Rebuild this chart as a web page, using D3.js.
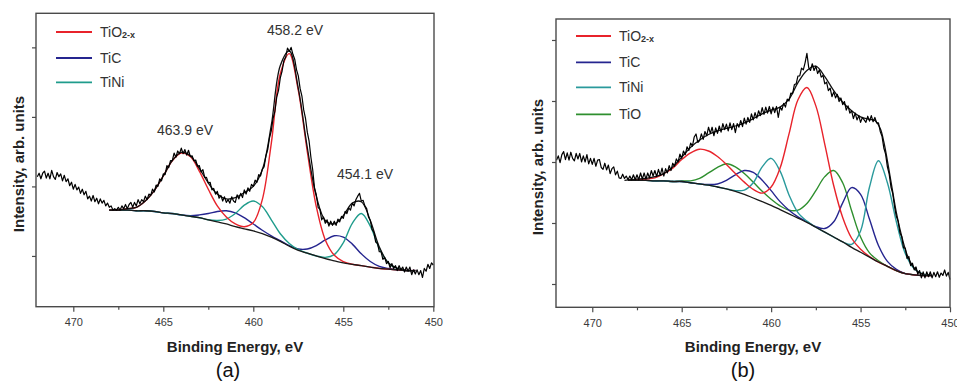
<!DOCTYPE html>
<html><head><meta charset="utf-8">
<script src="https://cdn.jsdelivr.net/npm/d3@7"></script>
<style>
body{margin:0;background:#fff}
svg{display:block}
text{font-family:"Liberation Sans",Arial,sans-serif}
</style>
</head><body>
<svg id="chart" width="957" height="383"></svg>
<script>
// ---------- DATA ----------
const seriesNamesA = ["TiO2-x", "TiC", "TiNi"];
const seriesNamesB = ["TiO2-x", "TiC", "TiNi", "TiO"];
const majorTicks = [470, 465, 460, 455, 450];
const minorTicks = [467.5, 462.5, 457.5, 452.5];
const yTicksA = [0, 1, 2, 3];
const yTicksB = [0, 1, 2, 3, 4];
const peakLabelsA = ["458.2 eV", "463.9 eV", "454.1 eV"];

// raw spectrum energies (eV)
const rawEnergy = [
472.0,471.9,471.8,471.7,471.6,471.5,471.4,471.3,471.2,471.1,
471.0,470.9,470.8,470.7,470.6,470.5,470.4,470.3,470.2,470.1,
470.0,469.9,469.8,469.7,469.6,469.5,469.4,469.3,469.2,469.1,
469.0,468.9,468.8,468.7,468.6,468.5,468.4,468.3,468.2,468.1,
468.0,467.9,467.8,467.7,467.6,467.5,467.4,467.3,467.2,467.1,
467.0,466.9,466.8,466.7,466.6,466.5,466.4,466.3,466.2,466.1,
466.0,465.9,465.8,465.7,465.6,465.5,465.4,465.3,465.2,465.1,
465.0,464.9,464.8,464.7,464.6,464.5,464.4,464.3,464.2,464.1,
464.0,463.9,463.8,463.7,463.6,463.5,463.4,463.3,463.2,463.1,
463.0,462.9,462.8,462.7,462.6,462.5,462.4,462.3,462.2,462.1,
462.0,461.9,461.8,461.7,461.6,461.5,461.4,461.3,461.2,461.1,
461.0,460.9,460.8,460.7,460.6,460.5,460.4,460.3,460.2,460.1,
460.0,459.9,459.8,459.7,459.6,459.5,459.4,459.3,459.2,459.1,
459.0,458.9,458.8,458.7,458.6,458.5,458.4,458.3,458.2,458.1,
458.0,457.9,457.8,457.7,457.6,457.5,457.4,457.3,457.2,457.1,
457.0,456.9,456.8,456.7,456.6,456.5,456.4,456.3,456.2,456.1,
456.0,455.9,455.8,455.7,455.6,455.5,455.4,455.3,455.2,455.1,
455.0,454.9,454.8,454.7,454.6,454.5,454.4,454.3,454.2,454.1,
454.0,453.9,453.8,453.7,453.6,453.5,453.4,453.3,453.2,453.1,
453.0,452.9,452.8,452.7,452.6,452.5,452.4,452.3,452.2,452.1,
452.0,451.9,451.8,451.7,451.6,451.5,451.4,451.3,451.2,451.1,
451.0,450.9,450.8,450.7,450.6,450.5,450.4,450.3,450.2,450.1,
450.0];

const rawA = [
1.14,1.19,1.11,1.19,1.22,1.12,1.19,1.11,1.23,1.14,
1.10,1.20,1.14,1.18,1.08,1.16,1.07,1.11,1.01,1.06,
0.96,1.03,0.95,0.99,0.90,0.96,0.88,0.93,0.82,0.86,
0.79,0.87,0.78,0.83,0.75,0.82,0.76,0.80,0.72,0.76,
0.70,0.72,0.66,0.68,0.66,0.70,0.66,0.72,0.68,0.74,
0.68,0.74,0.77,0.70,0.77,0.72,0.81,0.75,0.81,0.78,
0.86,0.81,0.89,0.87,0.96,0.92,1.02,1.00,1.11,1.08,
1.18,1.17,1.30,1.27,1.37,1.37,1.48,1.42,1.51,1.47,
1.55,1.47,1.53,1.45,1.52,1.43,1.44,1.37,1.38,1.29,
1.30,1.21,1.24,1.13,1.13,1.05,1.06,0.95,0.97,0.89,
0.93,0.83,0.87,0.79,0.85,0.77,0.81,0.76,0.85,0.79,
0.77,0.88,0.82,0.90,0.84,0.95,0.89,0.98,0.93,1.03,
1.00,1.09,1.06,1.17,1.15,1.25,1.28,1.44,1.53,1.70,
1.80,1.98,2.08,2.28,2.38,2.56,2.66,2.81,2.86,2.99,
2.94,3.00,2.90,2.83,2.68,2.59,2.41,2.30,2.10,1.98,
1.78,1.65,1.42,1.24,0.98,0.88,0.70,0.67,0.52,0.56,
0.47,0.52,0.43,0.50,0.44,0.50,0.44,0.53,0.49,0.57,
0.54,0.64,0.61,0.69,0.66,0.76,0.72,0.81,0.86,0.90,
0.79,0.80,0.72,0.68,0.56,0.51,0.38,0.34,0.20,0.18,
0.06,0.06,-0.05,-0.02,-0.11,-0.08,-0.17,-0.11,-0.18,-0.14,
-0.21,-0.14,-0.20,-0.16,-0.23,-0.16,-0.22,-0.16,-0.27,-0.20,
-0.26,-0.20,-0.27,-0.21,-0.31,-0.18,-0.22,-0.12,-0.18,-0.10,
-0.13];

const rawB = [
2.03,2.10,1.99,2.12,2.17,2.04,2.15,2.03,2.16,2.06,
2.02,2.14,2.05,2.14,2.00,2.10,2.00,2.12,1.97,2.06,
1.96,2.06,1.93,2.03,2.04,1.91,1.88,1.98,1.87,1.95,
1.81,1.89,1.92,1.79,1.85,1.74,1.73,1.80,1.73,1.77,
1.71,1.77,1.71,1.79,1.71,1.79,1.71,1.82,1.72,1.82,
1.72,1.82,1.74,1.86,1.77,1.86,1.76,1.88,1.78,1.90,
1.77,1.89,1.82,1.94,1.86,1.98,1.93,2.05,2.00,2.13,
2.06,2.18,2.12,2.25,2.19,2.31,2.26,2.41,2.46,2.32,
2.35,2.46,2.37,2.50,2.43,2.57,2.47,2.57,2.43,2.56,
2.47,2.59,2.49,2.63,2.53,2.62,2.51,2.64,2.53,2.63,
2.48,2.63,2.57,2.68,2.58,2.72,2.62,2.73,2.65,2.79,
2.69,2.81,2.72,2.84,2.76,2.89,2.78,2.90,2.80,2.91,
2.79,2.90,2.81,2.91,2.73,2.90,2.85,2.96,2.90,3.03,
3.00,3.13,3.12,3.27,3.28,3.41,3.41,3.54,3.51,3.63,
3.78,3.55,3.50,3.61,3.50,3.57,3.45,3.51,3.39,3.42,
3.28,3.31,3.17,3.21,3.07,3.15,3.05,3.11,2.99,3.05,
2.94,2.99,2.85,2.92,2.80,2.84,2.71,2.80,2.69,2.76,
2.65,2.73,2.69,2.65,2.75,2.67,2.76,2.66,2.73,2.64,
2.64,2.50,2.42,2.23,2.13,1.92,1.80,1.59,1.48,1.27,
1.11,1.03,0.84,0.78,0.59,0.59,0.42,0.45,0.30,0.34,
0.23,0.28,0.16,0.22,0.10,0.20,0.10,0.20,0.12,0.20,
0.10,0.19,0.12,0.20,0.11,0.18,0.14,0.23,0.13,0.19,
0.07];

// fit grid energies (eV)
const fitEnergy = [468.0,467.5,467.0,466.5,466.0,465.5,465.0,464.5,464.0,463.5,
463.0,462.5,462.0,461.5,461.0,460.5,460.0,459.5,459.0,458.5,
458.0,457.5,457.0,456.5,456.0,455.5,455.0,454.5,454.0,453.5,
453.0,452.5,452.0,451.5,451.0];

// panel (a)
const bgA   = [0.66,0.66,0.66,0.65,0.65,0.64,0.62,0.61,0.59,0.57,0.55,0.52,0.49,0.46,0.42,0.39,0.36,0.32,0.27,0.21,0.14,0.08,0.04,0.00,-0.04,-0.07,-0.10,-0.12,-0.14,-0.16,-0.18,-0.19,-0.20,-0.21,-0.21];
const tio2A = [0.66,0.66,0.68,0.70,0.79,0.94,1.15,1.37,1.48,1.43,1.22,0.96,0.72,0.56,0.46,0.42,0.48,0.81,1.62,2.62,2.91,2.38,1.50,0.71,0.23,0.01,-0.08,-0.12,-0.14,-0.16,-0.18,-0.19,-0.20,-0.21,-0.21];
const ticA  = [0.66,0.66,0.66,0.65,0.65,0.64,0.62,0.61,0.59,0.58,0.59,0.61,0.64,0.65,0.62,0.55,0.46,0.37,0.29,0.22,0.15,0.10,0.10,0.15,0.23,0.29,0.27,0.17,0.03,-0.08,-0.15,-0.18,-0.20,-0.21,-0.21];
const tiniA = [0.66,0.66,0.66,0.65,0.65,0.64,0.62,0.61,0.59,0.57,0.55,0.52,0.51,0.53,0.61,0.73,0.79,0.71,0.52,0.32,0.18,0.09,0.04,0.00,-0.02,0.02,0.19,0.47,0.61,0.43,0.11,-0.10,-0.18,-0.21,-0.21];
const envA  = [0.66,0.66,0.68,0.70,0.79,0.94,1.15,1.37,1.49,1.44,1.26,1.05,0.89,0.82,0.84,0.91,1.00,1.24,1.88,2.74,2.95,2.41,1.56,0.86,0.51,0.46,0.58,0.76,0.78,0.51,0.13,-0.10,-0.18,-0.21,-0.21];

// panel (b)
const bgB   = [1.70,1.70,1.70,1.69,1.69,1.68,1.68,1.66,1.64,1.62,1.59,1.56,1.52,1.47,1.41,1.35,1.29,1.22,1.15,1.08,1.01,0.93,0.85,0.77,0.69,0.60,0.52,0.44,0.36,0.29,0.22,0.17,0.15,0.14,0.14];
const tio2B = [1.70,1.71,1.72,1.74,1.81,1.90,2.04,2.15,2.21,2.18,2.09,1.96,1.81,1.67,1.55,1.49,1.59,1.90,2.46,3.02,3.22,2.92,2.29,1.61,1.09,0.75,0.57,0.45,0.36,0.29,0.22,0.17,0.15,0.14,0.14];
const ticB  = [1.70,1.70,1.70,1.69,1.69,1.68,1.68,1.66,1.64,1.63,1.64,1.70,1.79,1.86,1.83,1.70,1.53,1.35,1.21,1.10,1.02,0.94,0.91,1.02,1.33,1.58,1.47,1.06,0.63,0.37,0.24,0.17,0.15,0.14,0.14];
const tiniB = [1.70,1.70,1.70,1.69,1.69,1.68,1.68,1.66,1.64,1.62,1.59,1.56,1.53,1.54,1.66,1.92,2.06,1.85,1.46,1.17,1.03,0.93,0.85,0.77,0.69,0.65,0.87,1.59,2.02,1.66,1.02,0.50,0.25,0.16,0.14];
const tioB  = [1.70,1.70,1.70,1.69,1.69,1.68,1.69,1.69,1.73,1.82,1.91,1.97,1.92,1.81,1.67,1.52,1.39,1.28,1.21,1.21,1.32,1.53,1.76,1.86,1.66,1.20,0.77,0.51,0.38,0.29,0.22,0.17,0.15,0.14,0.14];
const envEnergyB = [468.2,467.5,467.0,466.5,466.0,465.5,465.0,464.5,464.0,463.5,463.0,462.5,462.0,461.5,461.0,460.5,460.0,459.5,459.0,458.5,458.0,457.5,457.0,456.5,456.0,455.5,455.0,454.5,454.2,453.9,453.7,453.5,453.3,453.0,452.7,452.4,452.1,451.8,451.5];
const envB = [1.70,1.72,1.73,1.76,1.81,1.92,2.08,2.24,2.36,2.45,2.51,2.55,2.59,2.64,2.71,2.79,2.85,2.90,3.03,3.30,3.50,3.57,3.40,3.17,2.98,2.84,2.74,2.70,2.68,2.55,2.33,2.02,1.68,1.17,0.78,0.48,0.30,0.20,0.16];

// ---------- DRAWING ----------
const COLORS = {"TiO2-x":"#e8232b","TiC":"#25258f","TiNi":"#1f9c8c","TiO":"#2e8f2e"};
const COLORS_B = {"TiO2-x":"#e8232b","TiC":"#25258f","TiNi":"#2a9a9c","TiO":"#2e8f2e"};
const svg = d3.select("#chart");

function zip(xs, ys){ return xs.map((x,i)=>[x, ys[i]]); }

function drawPanel(cfg){
  const {x, y, frame} = cfg;
  const g = svg.append("g");
  const smooth = d3.line().x(d=>x(d[0])).y(d=>y(d[1])).curve(d3.curveCatmullRom.alpha(0.5));
  const raw = d3.line().x(d=>x(d[0])).y(d=>y(d[1]));

  // axes
  const gx = g.append("g").attr("transform",`translate(0,${frame.y1})`)
    .call(d3.axisBottom(x).tickValues(majorTicks).tickSize(5).tickPadding(7).tickFormat(d3.format("d")));
  gx.selectAll("text").attr("font-size",11).attr("fill","#3a3a3a").attr("font-family","Liberation Sans, Arial, sans-serif");
  const gxm = g.append("g").attr("transform",`translate(0,${frame.y1})`)
    .call(d3.axisBottom(x).tickValues(minorTicks).tickSize(3).tickFormat(""));
  const gy = g.append("g").attr("transform",`translate(${frame.x0},0)`)
    .call(d3.axisLeft(y).tickValues(cfg.yTicks).tickSize(4).tickFormat(""));
  [gx,gxm,gy].forEach(a=>{ a.select(".domain").remove(); a.selectAll("line").attr("stroke","#4a4a4a").attr("stroke-width",1.2); });

  // components
  cfg.components.forEach(c=>{
    g.append("path").datum(zip(fitEnergy,c.values)).attr("d",smooth)
      .attr("fill","none").attr("stroke",c.color).attr("stroke-width",1.4);
  });
  // background
  g.append("path").datum(zip(fitEnergy,cfg.bg)).attr("d",smooth)
    .attr("fill","none").attr("stroke","#1a1a1a").attr("stroke-width",1.3);
  // envelope
  g.append("path").datum(zip(cfg.envE,cfg.env)).attr("d",smooth)
    .attr("fill","none").attr("stroke","#111").attr("stroke-width",1.3);
  // raw data
  g.append("path").datum(zip(rawEnergy,cfg.raw)).attr("d",raw)
    .attr("fill","none").attr("stroke","#000").attr("stroke-width",1.2).attr("stroke-linejoin","round");

  // frame
  g.append("rect").attr("x",frame.x0).attr("y",frame.y0)
    .attr("width",frame.x1-frame.x0).attr("height",frame.y1-frame.y0)
    .attr("fill","none").attr("stroke","#4a4a4a").attr("stroke-width",1.4);

  // legend
  cfg.legend.names.forEach((n,i)=>{
    const ly = cfg.legend.ys[i];
    g.append("line").attr("x1",cfg.legend.x0).attr("x2",cfg.legend.x1).attr("y1",ly).attr("y2",ly)
      .attr("stroke",cfg.colors[n]).attr("stroke-width",1.8);
    const t = g.append("text").attr("x",cfg.legend.tx).attr("y",ly+5).attr("font-size",14).attr("fill","#333");
    if(n==="TiO2-x"){
      t.append("tspan").text("TiO");
      t.append("tspan").text("2-x").attr("font-size",9).attr("font-weight","bold").attr("dy",1);
    } else t.text(n);
  });

  // titles
  const cx = (frame.x0+frame.x1)/2;
  g.append("text").attr("x",cx).attr("y",352).attr("text-anchor","middle")
    .attr("font-size",15).attr("font-weight","bold").attr("fill","#222").text("Binding Energy, eV");
  g.append("text").attr("transform",`translate(${cfg.ytx},${cfg.yty}) rotate(-90)`).attr("text-anchor","middle")
    .attr("font-size",15).attr("font-weight","bold").attr("fill","#222").text("Intensity, arb. units");
  g.append("text").attr("x",cfg.letterX).attr("y",377).attr("text-anchor","middle")
    .attr("font-size",20).attr("font-family","Liberation Serif, Times New Roman, serif").attr("fill","#111").text(cfg.letter);
  return g;
}

// panel (a)
const xA = d3.scaleLinear().domain([472,450]).range([37.3,433.3]);
const yA = d3.scaleLinear().domain([-0.73,3.49]).range([306.7,13.3]);
const gA = drawPanel({
  x:xA, y:yA, frame:{x0:36,x1:434,y0:13.3,y1:306.7}, yTicks:yTicksA,
  components:[{values:ticA,color:COLORS["TiC"]},{values:tiniA,color:COLORS["TiNi"]},{values:tio2A,color:COLORS["TiO2-x"]}],
  bg:bgA, env:envA, envE:fitEnergy, raw:rawA, colors:COLORS,
  legend:{names:seriesNamesA, ys:[32,58,82.3], x0:56, x1:92, tx:100},
  ytx:24, yty:164, letter:"(a)", letterX:228
});
// peak annotations (a)
const annPos = [[267,35],[157,135],[337,179]];
peakLabelsA.forEach((s,i)=>{
  gA.append("text").attr("x",annPos[i][0]).attr("y",annPos[i][1]).attr("font-size",14).attr("fill","#333").text(s);
});

// panel (b)
const xB = d3.scaleLinear().domain([472,450]).range([556.5,950]);
const yB = d3.scaleLinear().domain([-0.382,4.344]).range([307.3,19]);
drawPanel({
  x:xB, y:yB, frame:{x0:556,x1:950,y0:19,y1:307.3}, yTicks:yTicksB,
  components:[{values:tioB,color:COLORS_B["TiO"]},{values:ticB,color:COLORS_B["TiC"]},{values:tiniB,color:COLORS_B["TiNi"]},{values:tio2B,color:COLORS_B["TiO2-x"]}],
  bg:bgB, env:envB, envE:envEnergyB, raw:rawB, colors:COLORS_B,
  legend:{names:seriesNamesB, ys:[36,62.3,87.3,114.3], x0:576, x1:611, tx:619},
  ytx:543, yty:167, letter:"(b)", letterX:743
});
</script>
</body></html>
